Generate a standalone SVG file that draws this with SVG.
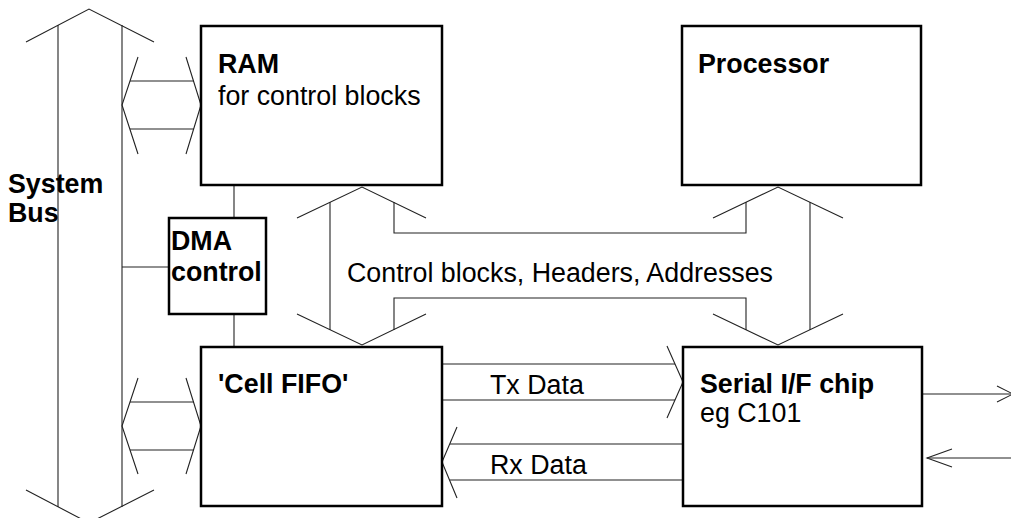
<svg xmlns="http://www.w3.org/2000/svg" width="1011" height="518" viewBox="0 0 1011 518">
  <style>
    .box { fill: #fff; stroke: #000; stroke-width: 2.5; }
    .ln { fill: none; stroke: #222; stroke-width: 1.1; }
    text { font-family: "Liberation Sans", Arial, sans-serif; font-size: 26.8px; fill: #000; }
    .b { font-weight: bold; }
  </style>
  <rect width="1011" height="518" fill="#fff"/>

  <g id="connectors">
    <!-- system bus (vertical double arrow) -->
    <line class="ln" x1="58" y1="25" x2="58" y2="507"/>
    <line class="ln" x1="122" y1="25" x2="122" y2="507"/>
    <polyline class="ln" points="26,42 89,9 154,42"/>
    <polyline class="ln" points="26,490 89,523 154,490"/>

    <!-- bus <-> RAM -->
    <polyline class="ln" points="138,57 122,105 138,154"/>
    <polyline class="ln" points="186,57 201,105 186,154"/>
    <line class="ln" x1="130" y1="81" x2="194" y2="81"/>
    <line class="ln" x1="130" y1="129" x2="194" y2="129"/>

    <!-- bus <-> Cell FIFO -->
    <polyline class="ln" points="138,378 122,426 138,474"/>
    <polyline class="ln" points="186,378 201,426 186,474"/>
    <line class="ln" x1="130" y1="402" x2="194" y2="402"/>
    <line class="ln" x1="130" y1="450" x2="194" y2="450"/>

    <!-- DMA control links -->
    <line class="ln" x1="122" y1="267" x2="169" y2="267"/>
    <line class="ln" x1="234" y1="185" x2="234" y2="218"/>
    <line class="ln" x1="234" y1="314" x2="234" y2="347"/>

    <!-- control blocks / headers / addresses bus -->
    <polyline class="ln" points="297,218 362,187 426,218"/>
    <polyline class="ln" points="713,218 778,187 843,218"/>
    <polyline class="ln" points="297,314 362,345 426,314"/>
    <polyline class="ln" points="713,314 778,345 843,314"/>
    <line class="ln" x1="330" y1="202" x2="330" y2="330"/>
    <line class="ln" x1="810" y1="202" x2="810" y2="330"/>
    <polyline class="ln" points="394,202 394,233 746,233 746,202"/>
    <polyline class="ln" points="394,330 394,298 746,298 746,330"/>

    <!-- Tx data -->
    <line class="ln" x1="442" y1="364" x2="675" y2="364"/>
    <line class="ln" x1="442" y1="400" x2="675" y2="400"/>
    <polyline class="ln" points="667,346 683,382 667,418"/>

    <!-- Rx data -->
    <line class="ln" x1="450" y1="444" x2="683" y2="444"/>
    <line class="ln" x1="450" y1="480" x2="683" y2="480"/>
    <polyline class="ln" points="457,427 442,462 457,498"/>

    <!-- serial line out / in -->
    <line class="ln" x1="922" y1="394" x2="1013" y2="394"/>
    <polyline class="ln" points="997,386 1013,394 997,402"/>
    <line class="ln" x1="927" y1="458" x2="1011" y2="458"/>
    <polyline class="ln" points="952,449 927,458 952,467"/>
  </g>

  <g id="system-bus">
    <text class="b" x="8" y="193">System</text>
    <text class="b" x="8" y="222">Bus</text>
  </g>

  <g id="ram">
    <rect class="box" x="201" y="26" width="241" height="159"/>
    <text class="b" x="218" y="73">RAM</text>
    <text x="218" y="105">for control blocks</text>
  </g>

  <g id="processor">
    <rect class="box" x="682" y="26" width="239" height="159"/>
    <text class="b" x="698" y="73">Processor</text>
  </g>

  <g id="dma">
    <rect class="box" x="169" y="218" width="97" height="96"/>
    <text class="b" x="171" y="250">DMA</text>
    <text class="b" x="171" y="281">control</text>
  </g>

  <g id="cell-fifo">
    <rect class="box" x="201" y="347" width="241" height="159"/>
    <text class="b" x="218" y="393">'Cell FIFO'</text>
  </g>

  <g id="serial-if">
    <rect class="box" x="683" y="347" width="239" height="159"/>
    <text class="b" x="700" y="393">Serial I/F chip</text>
    <text x="700" y="422">eg C101</text>
  </g>

  <g id="labels">
    <text x="347" y="282">Control blocks, Headers, Addresses</text>
    <text x="490" y="394">Tx Data</text>
    <text x="490" y="474">Rx Data</text>
  </g>
</svg>
